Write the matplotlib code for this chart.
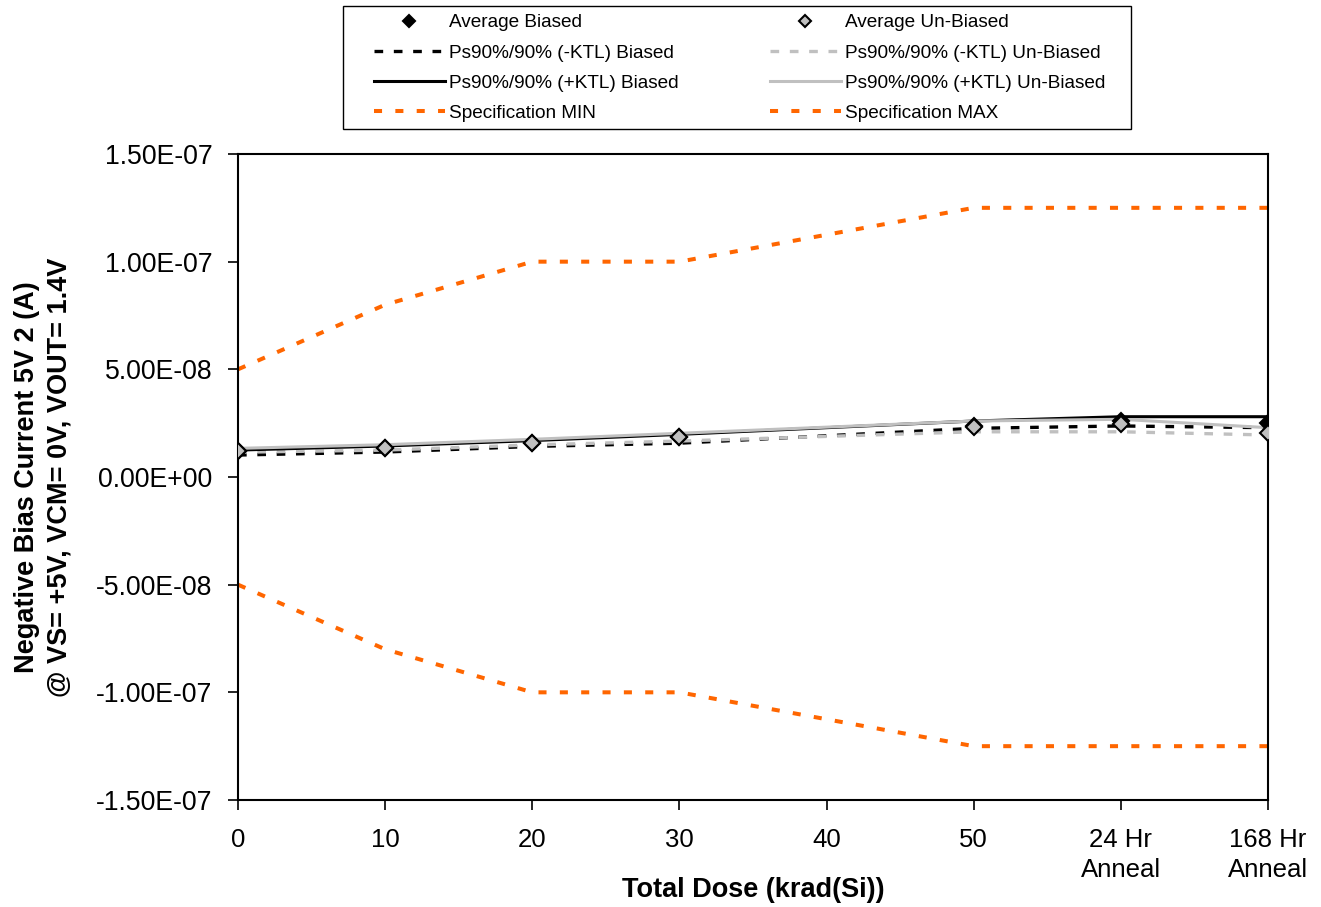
import numpy as np
import matplotlib
matplotlib.use("Agg")
import matplotlib.pyplot as plt
from matplotlib.patches import Rectangle
from matplotlib.ticker import FuncFormatter

plt.rcParams['font.family'] = ['Liberation Sans', 'DejaVu Sans']

# categories on the x axis (40 krad has no measurement)
categories = ["0", "10", "20", "30", "40", "50", "24 Hr\nAnneal", "168 Hr\nAnneal"]
data_idx = [0, 1, 2, 3, 5, 6, 7]

# series values (A)
avg_biased = [1.20e-8, 1.35e-8, 1.60e-8, 1.85e-8, 2.35e-8, 2.58e-8, 2.50e-8]
avg_unbiased = [1.21e-8, 1.36e-8, 1.59e-8, 1.87e-8, 2.34e-8, 2.44e-8, 2.06e-8]
ktl_minus_biased = [1.02e-8, 1.16e-8, 1.42e-8, 1.57e-8, 2.26e-8, 2.37e-8, 2.29e-8]
ktl_minus_unbiased = [1.15e-8, 1.25e-8, 1.49e-8, 1.67e-8, 2.10e-8, 2.10e-8, 1.95e-8]
ktl_plus_biased = [1.25e-8, 1.44e-8, 1.69e-8, 1.98e-8, 2.60e-8, 2.80e-8, 2.80e-8]
ktl_plus_unbiased = [1.33e-8, 1.50e-8, 1.75e-8, 2.03e-8, 2.60e-8, 2.68e-8, 2.29e-8]
spec_max = [5.0e-8, 8.0e-8, 1.0e-7, 1.0e-7, 1.25e-7, 1.25e-7, 1.25e-7]
spec_min = [-5.0e-8, -8.0e-8, -1.0e-7, -1.0e-7, -1.25e-7, -1.25e-7, -1.25e-7]

ORANGE = "#FF6600"
GRAY = "#C0C0C0"

W, H = 1321, 907
fig = plt.figure(figsize=(W / 100, H / 100), dpi=100)
ax = fig.add_axes([238 / W, 1 - 800 / H, 1030 / W, 646 / H])

x = np.array(data_idx)

ax.plot(x, spec_min, color=ORANGE, lw=2.9, dashes=(2, 3.3), label="Specification MIN", zorder=2)
ax.plot(x, spec_max, color=ORANGE, lw=2.9, dashes=(2, 3.3), label="Specification MAX", zorder=2)
ax.plot(x, ktl_minus_biased, color="black", lw=2.4, dashes=(2.6, 3.2),
        label="Ps90%/90% (-KTL) Biased", zorder=3)
ax.plot(x, ktl_minus_unbiased, color=GRAY, lw=2.4, dashes=(2.6, 3.2),
        label="Ps90%/90% (-KTL) Un-Biased", zorder=3)
ax.plot(x, ktl_plus_biased, color="black", lw=2.2, label="Ps90%/90% (+KTL) Biased", zorder=4)
ax.plot(x, ktl_plus_unbiased, color=GRAY, lw=2.2, label="Ps90%/90% (+KTL) Un-Biased", zorder=4)
ax.plot(x, avg_biased, ls="none", marker="D", ms=8, mfc="black", mec="black", mew=1.5,
        label="Average Biased", zorder=5)
ax.plot(x, avg_unbiased, ls="none", marker="D", ms=8, mfc=GRAY, mec="black", mew=1.5,
        label="Average Un-Biased", zorder=6)

ax.set_xlim(0, len(categories) - 1)
ax.set_ylim(-1.5e-7, 1.5e-7)
ax.set_xticks(range(len(categories)))
ax.set_xticklabels(categories, fontsize=18.5, linespacing=1.35)
ax.set_yticks(np.arange(-1.5e-7, 1.51e-7, 5e-8))
ax.yaxis.set_major_formatter(FuncFormatter(lambda v, p: f"{v:.2E}"))
ax.tick_params(axis="y", labelsize=19.2, direction="out", length=7, width=1.2, pad=11.5)
ax.tick_params(axis="x", direction="out", length=7, width=1.2, pad=13)
for s in ax.spines.values():
    s.set_linewidth(1.5)

ax.set_xlabel("Total Dose (krad(Si))", fontsize=19.5, fontweight="bold", labelpad=-4)
ax.set_ylabel("Negative Bias Current 5V 2 (A)\n@ VS= +5V, VCM= 0V, VOUT= 1.4V",
              fontsize=19.5, fontweight="bold", labelpad=17, linespacing=1.3)

# legend: two columns, Excel row order, frame drawn separately
handles, labels = ax.get_legend_handles_labels()
lookup = dict(zip(labels, handles))
order = ["Average Biased", "Ps90%/90% (-KTL) Biased", "Ps90%/90% (+KTL) Biased", "Specification MIN",
         "Average Un-Biased", "Ps90%/90% (-KTL) Un-Biased", "Ps90%/90% (+KTL) Un-Biased",
         "Specification MAX"]
fig.legend([lookup[k] for k in order], order, ncol=2, loc="center",
           bbox_to_anchor=(740 / W, 1 - 68 / H),
           fontsize=13.7, frameon=False, handlelength=3.7, handletextpad=0.25,
           columnspacing=4.8, borderaxespad=0, labelspacing=0.68,
           markerscale=0.75, borderpad=0)
fig.patches.append(Rectangle((343 / W, 1 - 129 / H), 788 / W, 123 / H,
                             transform=fig.transFigure, fill=False,
                             edgecolor="black", lw=1.0))

fig.savefig("out.png", dpi=100)
